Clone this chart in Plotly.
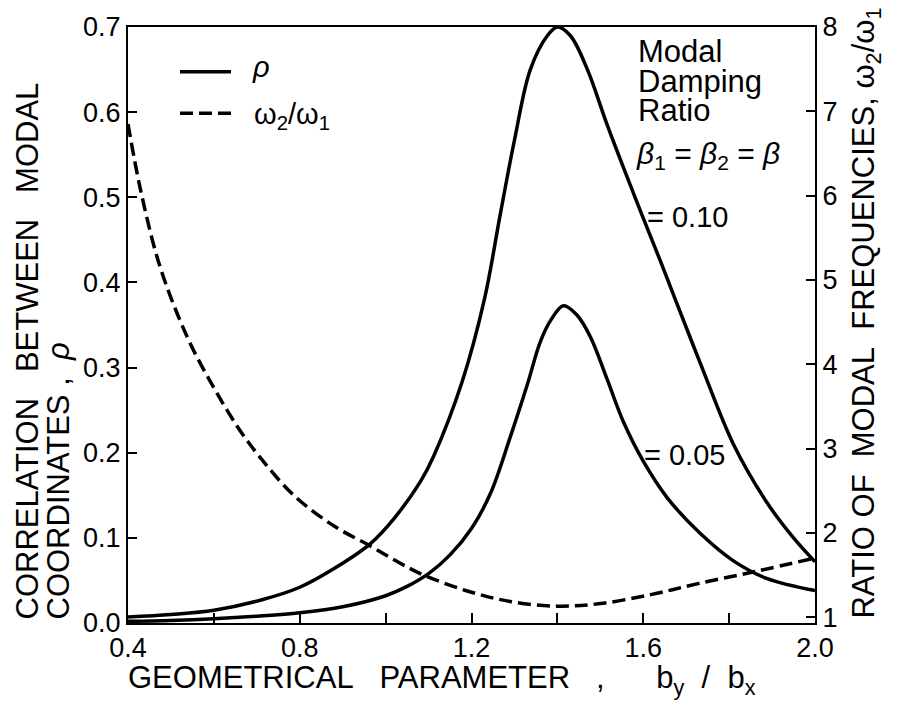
import plotly.graph_objects as go

# ---- data ----
x_ratio = [0.40, 0.43, 0.475, 0.54, 0.60, 0.66, 0.71, 0.785, 0.88, 0.964, 1.03, 1.088,
           1.19, 1.29, 1.40, 1.50, 1.62, 1.73, 1.86, 2.00]
freq_ratio = [6.85, 6.05, 5.15, 4.30, 3.72, 3.22, 2.88, 2.45, 2.08, 1.845, 1.65, 1.50,
              1.31, 1.185, 1.13, 1.16, 1.27, 1.40, 1.54, 1.70]

x_b10 = [0.40, 0.50, 0.60, 0.71, 0.80, 0.88, 0.964, 1.02, 1.081, 1.111, 1.178, 1.23, 1.267,
         1.30, 1.337, 1.377, 1.40, 1.43, 1.47, 1.516, 1.577, 1.64, 1.67, 1.733, 1.81, 1.89,
         1.95, 2.00]
rho_b10 = [0.007, 0.010, 0.015, 0.027, 0.042, 0.064, 0.093, 0.123, 0.166, 0.195, 0.283, 0.380,
           0.480, 0.567, 0.650, 0.690, 0.700, 0.690, 0.650, 0.585, 0.505, 0.425, 0.386, 0.305,
           0.210, 0.140, 0.100, 0.072]

x_b05 = [0.40, 0.50, 0.60, 0.70, 0.80, 0.90, 1.00, 1.05, 1.10, 1.15, 1.20, 1.244, 1.29, 1.33,
         1.36, 1.385, 1.414, 1.445, 1.477, 1.516, 1.554, 1.60, 1.656, 1.733, 1.81, 1.889, 2.00]
rho_b05 = [0.002, 0.003, 0.005, 0.008, 0.012, 0.019, 0.032, 0.043, 0.058, 0.080, 0.111, 0.152,
           0.218, 0.280, 0.330, 0.356, 0.3725, 0.362, 0.336, 0.286, 0.236, 0.190, 0.147, 0.105,
           0.073, 0.052, 0.038]

x_ticks = [0.4, 0.8, 1.2, 1.6, 2.0]
x_minor = [0.6, 1.0, 1.4, 1.8]
rho_ticks = [0.0, 0.1, 0.2, 0.3, 0.4, 0.5, 0.6, 0.7]
ratio_ticks = [1, 2, 3, 4, 5, 6, 7, 8]

FONT = "Liberation Sans"
LW = 3.5
SMOOTH = 1.0

fig = go.Figure()
fig.add_trace(go.Scatter(x=x_b10, y=rho_b10, mode="lines", line=dict(color="black", width=LW,
                         shape="spline", smoothing=SMOOTH), showlegend=False))
fig.add_trace(go.Scatter(x=x_b05, y=rho_b05, mode="lines", line=dict(color="black", width=LW,
                         shape="spline", smoothing=SMOOTH), showlegend=False))
fig.add_trace(go.Scatter(x=x_ratio, y=freq_ratio, mode="lines", yaxis="y2",
                         line=dict(color="black", width=LW, dash="13px,6px", shape="spline",
                                   smoothing=SMOOTH), showlegend=False))

L, R, T, B = 128, 815, 22, 623
W, H = R - L, B - T


def P(px, py):
    return (px - L) / W, (B - py) / H


annotations = []


def text(px, py, s, size, xa="left", ya="middle", angle=0):
    x, y = P(px, py)
    annotations.append(dict(x=x, y=y, xref="paper", yref="paper", text=s, showarrow=False,
                            xanchor=xa, yanchor=ya, textangle=angle,
                            font=dict(family=FONT, size=size, color="black")))


NB = "\u00a0"
# legend
text(250, 62, "<i>ρ</i>", 29)
text(252, 112, "ω<sub>2</sub>/ω<sub>1</sub>", 29)
# right-hand notes
text(636, 47, "Modal", 31)
text(636, 77, "Damping", 31)
text(636, 106, "Ratio", 31)
text(634, 152, "<i>β</i><sub>1</sub> = <i>β</i><sub>2</sub> = <i>β</i>", 30)
text(645, 214, "=" + NB + "0.10", 29)
text(642, 454, "=" + NB + "0.05", 29)
# axis titles
text(28, 622, "CORRELATION" + NB * 3 + "BETWEEN" + NB * 3 + "MODAL", 31, xa="center", ya="bottom", angle=-90)
text(59, 622, "COORDINATES" + NB + "," + NB * 2 + "<i>ρ</i>", 31, xa="center", ya="bottom", angle=-90)
text(866, 621, "RATIO" + NB + "OF" + NB * 2 + "MODAL" + NB * 2 + "FREQUENCIES," + NB + "ω<sub>2</sub>/ω<sub>1</sub>",
     31, xa="center", ya="bottom", angle=-90)
text(126, 680, "GEOMETRICAL" + NB * 3 + "PARAMETER" + NB * 3 + "," + NB * 6 +
     "b<sub>y</sub>" + NB * 2 + "/" + NB * 2 + "b<sub>x</sub>", 31)

shapes = []
for py, dash in [(67, "solid"), (109, "13px,6px")]:
    x0, y0 = P(180, py)
    x1, _ = P(231, py)
    shapes.append(dict(type="line", xref="paper", yref="paper", x0=x0, x1=x1, y0=y0, y1=y0,
                       line=dict(color="black", width=LW, dash=dash)))

axis_common = dict(showline=True, linecolor="black", linewidth=2, showgrid=False, zeroline=False,
                   ticks="inside", tickcolor="black", tickwidth=1.5,
                   tickfont=dict(family=FONT, size=27, color="black"))

fig.update_layout(
    width=901, height=711,
    margin=dict(l=L, r=901 - R, t=T, b=711 - B),
    plot_bgcolor="white", paper_bgcolor="white",
    xaxis=dict(range=[0.4, 2.0], tickvals=x_ticks, ticktext=["0.4", "0.8", "1.2", "1.6", "2.0"],
               ticklen=10, mirror=True,
               minor=dict(tickvals=x_minor, ticks="inside", ticklen=10, tickcolor="black", tickwidth=1.5),
               **axis_common),
    yaxis=dict(range=[0, 0.7], tickvals=rho_ticks, tickformat=".1f", ticklen=9, **axis_common),
    yaxis2=dict(range=[0.93, 8.0], tickvals=ratio_ticks, overlaying="y", side="right", ticklen=9,
                **axis_common),
    annotations=annotations, shapes=shapes, showlegend=False,
)

fig.write_html("out.html")
